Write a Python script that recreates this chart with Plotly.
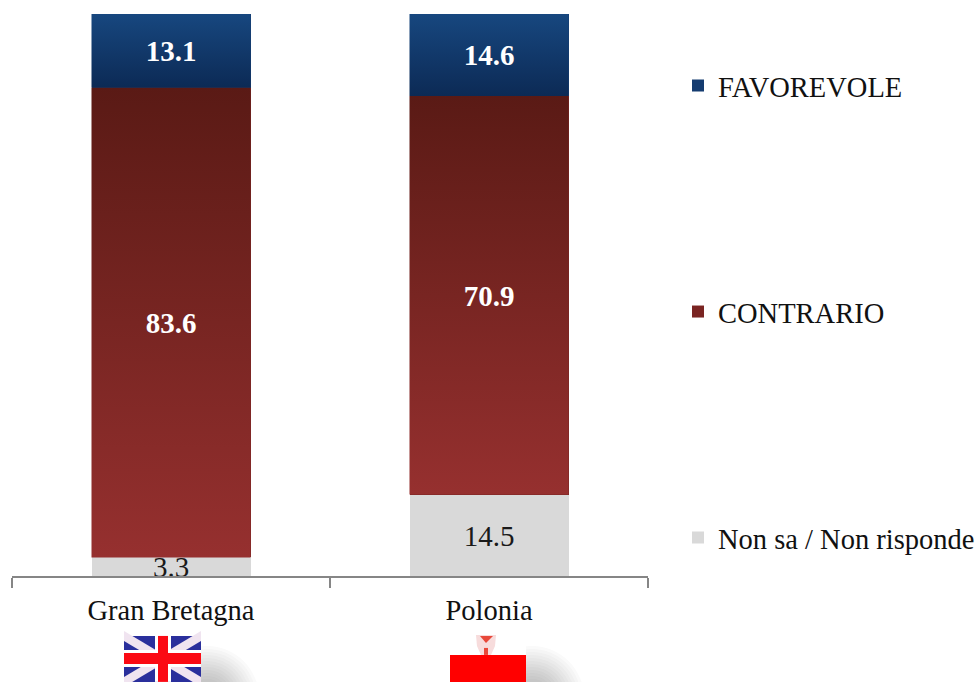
import plotly.graph_objects as go

categories = ["Gran Bretagna", "Polonia"]
series_names = ["Non sa / Non risponde", "CONTRARIO", "FAVOREVOLE"]
non_sa = [3.3, 14.5]
contrario = [83.6, 70.9]
favorevole = [13.1, 14.6]

W, H = 980, 682
L, R, T, B = 12, 648, 13.5, 576
FONT = "Liberation Serif"
BAND = 0.25
LABEL_DY = -0.55

def px(x): return (x - L) / (R - L)
def py(y): return (B - y) / (B - T)

series = [non_sa, contrario, favorevole]
solid = ["#d9d9d9", "#7a2422", "#153c70"]
gradients = [None, ("#96302f", "#5a1a15"), ("#0c2a55", "#17477f")]
label_colors = ["#1a1a1a", "#ffffff", "#ffffff"]
ranks = [3, 2, 1]

fig = go.Figure()
for name, vals, col, rank in zip(series_names, series, solid, ranks):
    fig.add_trace(go.Bar(x=categories, y=vals, name=name, marker=dict(color=col, line=dict(width=0)),
                         width=0.5, legendgroup=name, legendrank=rank, hoverinfo="x+y+name"))

# gradient fill on top of the bars, derived from the same values
base = [0.0] * len(categories)
for vals, grad, lc in zip(series, gradients, label_colors):
    for i, v in enumerate(vals):
        y0, y1 = base[i], base[i] + v
        if grad:
            fig.add_trace(go.Scatter(
                x=[i - BAND, i + BAND, i + BAND, i - BAND, i - BAND], y=[y0, y0, y1, y1, y0],
                xaxis="x2", mode="lines", line=dict(width=0), fill="toself", showlegend=False, hoverinfo="skip",
                fillgradient=dict(type="vertical", colorscale=[[0, grad[0]], [1, grad[1]]])))
        fig.add_trace(go.Scatter(
            x=[i], y=[(y0 + y1) / 2 + LABEL_DY], xaxis="x2", mode="text", text=[f"{v:.1f}"], showlegend=False,
            hoverinfo="skip", textposition="middle center", cliponaxis=False,
            textfont=dict(family=FONT, size=29, color=lc, weight="bold" if lc == "#ffffff" else "normal")))
        base[i] = y1

shapes = []
def rect(x0, y0, x1, y1, color, opacity=1, kind="rect"):
    shapes.append(dict(type=kind, xref="paper", yref="paper", x0=px(x0), x1=px(x1), y0=py(y1), y1=py(y0),
                       fillcolor=color, opacity=opacity, line=dict(width=0), layer="above"))

def poly(points, color):
    d = "M" + " L".join(f"{px(a):.5f},{py(b):.5f}" for a, b in points) + " Z"
    shapes.append(dict(type="path", xref="paper", yref="paper", path=d, fillcolor=color, line=dict(width=0), layer="above"))

# soft shadows beneath the flags
for cx in (207, 532):
    for r in range(52, 4, -3):
        rect(cx - r, 698 - r, cx + r, 698 + r, "#303030", 0.022, "circle")

# UK flag
fx0, fx1, fy0, fy1 = 124, 201, 636, 682
rect(fx0, fy0, fx1, fy1, "#2a2f9c")
for a, b in (((fx0, fy0), (fx1, fy1)), ((fx0, fy1), (fx1, fy0))):
    dy = 5
    poly([(a[0], a[1] - dy), (a[0], a[1] + dy), (b[0], b[1] + dy), (b[0], b[1] - dy)], "#f0e4f0")
rect(155, fy0, 171, fy1, "#ffffff")
rect(fx0, 650, fx1, 667, "#ffffff")
rect(158, fy0, 168, fy1, "#fb0a14")
rect(fx0, 653, fx1, 664, "#fb0a14")

# Polish flag
rect(450, 636, 526, 655, "#ffffff")
rect(450, 655, 526, 682, "#ff0000")
poly([(476, 635), (496, 635), (495, 646), (491, 655), (481, 655), (477, 646)], "#f7dcdc")
poly([(480, 636), (493, 636), (486, 643)], "#e8483a")
poly([(484, 648), (488, 648), (488, 655), (484, 655)], "#e8483a")

fig.update_layout(
    width=W, height=H, autosize=False, barmode="stack", bargap=0.5,
    paper_bgcolor="#ffffff", plot_bgcolor="#ffffff",
    margin=dict(l=L, r=W - R, t=T, b=H - B, pad=0, autoexpand=False),
    font=dict(family=FONT, size=28, color="#111111"),
    xaxis=dict(type="category", categoryorder="array", categoryarray=categories, tickson="boundaries",
               ticks="outside", ticklen=10, tickwidth=1.5, tickcolor="#868686", showline=True,
               linecolor="#868686", linewidth=1.5, showgrid=False, zeroline=False, ticklabelstandoff=8,
               tickfont=dict(family=FONT, size=28.5, color="#111111")),
    xaxis2=dict(overlaying="x", range=[-0.5, 1.5], visible=False, fixedrange=True),
    yaxis=dict(range=[0, 100], visible=False, fixedrange=True),
    legend=dict(x=px(678), y=py(60), xanchor="left", yanchor="top", traceorder="grouped",
                tracegroupgap=186, itemwidth=30, font=dict(family=FONT, size=28.5, color="#111111"),
                bgcolor="rgba(0,0,0,0)", itemclick=False, itemdoubleclick=False),
    shapes=shapes,
)
fig.write_html("out.html", config=dict(displayModeBar=False),
               post_script="document.body.style.margin='0';document.body.style.overflow='hidden';")
